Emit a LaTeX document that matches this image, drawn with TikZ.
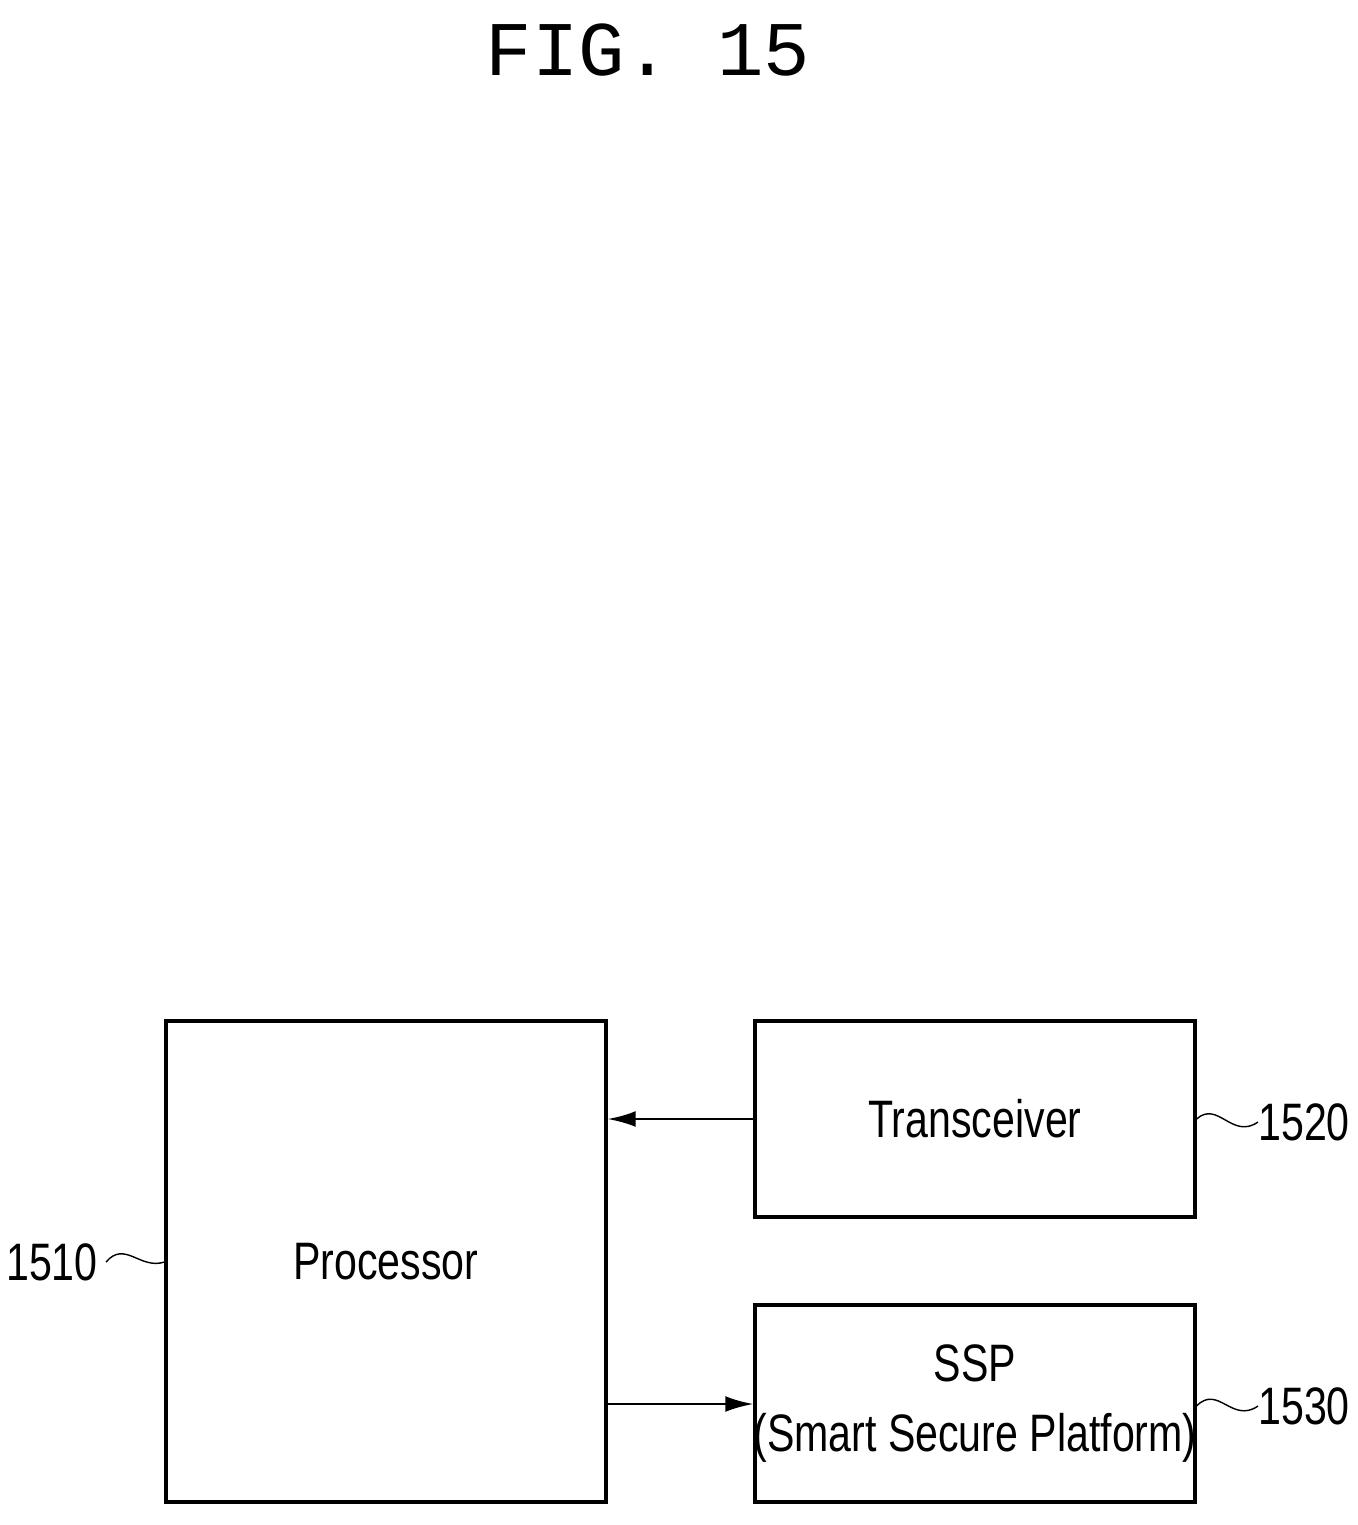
\documentclass[tikz,border=0pt]{standalone}
\usepackage{fontspec}
\setmainfont{Liberation Sans}
\newfontfamily\titlefont{Liberation Mono}
\usetikzlibrary{positioning}
\tikzset{
  blockbox/.style={draw, line width=1.8pt, inner sep=0pt},
  blocktext/.style={font=\fontsize{30}{40}\selectfont, xscale=0.78},
  refnum/.style={font=\fontsize{30}{36}\selectfont, xscale=0.78, inner sep=0pt},
  leader/.style={line width=0.8pt},
  flow/.style={line width=1.5pt, -{Latex[length=16pt,width=9pt]}}
}
\usetikzlibrary{arrows.meta}
\begin{document}
\begin{tikzpicture}[x=0.02cm, y=-0.02cm]
  \useasboundingbox (0,0) rectangle (1358,1525);
  \node[font=\titlefont\fontsize{44}{50}\selectfont] (title) at (648,50) {FIG. 15};

  % blocks
  \node[blockbox, minimum width=8.8cm, minimum height=9.62cm] (proc) at (386,1261.5) {};
  \node[blockbox, minimum width=8.8cm, minimum height=3.92cm] (trx) at (975,1119) {};
  \node[blockbox, minimum width=8.8cm, minimum height=3.94cm] (ssp) at (975,1403.5) {};
  \node[blocktext] at (proc) {Processor};
  \node[blocktext] at (trx) {Transceiver};
  \node[blocktext, align=center] at (ssp) {SSP\\(Smart Secure Platform)};

  % connectors
  \draw[flow] (trx.west) -- (trx.west -| proc.east);
  \draw[flow] (proc.east |- 0,1404) coordinate (pout) -- (pout -| ssp.west);

  % reference numerals
  \node[refnum, anchor=east] (n1510) at (98,1262) {1510};
  \node[refnum, anchor=west] (n1520) at (1258,1122) {1520};
  \node[refnum, anchor=west] (n1530) at (1258,1406) {1530};
  \draw[leader] (n1510.east) ++(8,0) .. controls (125,1240) and (140,1270) .. (proc.west |- 0,1262);
  \draw[leader] (trx.east) .. controls (1218,1100) and (1232,1140) .. (n1520.west);
  \draw[leader] (ssp.east |- 0,1406) .. controls (1218,1384) and (1232,1424) .. (n1530.west);
\end{tikzpicture}
\end{document}
